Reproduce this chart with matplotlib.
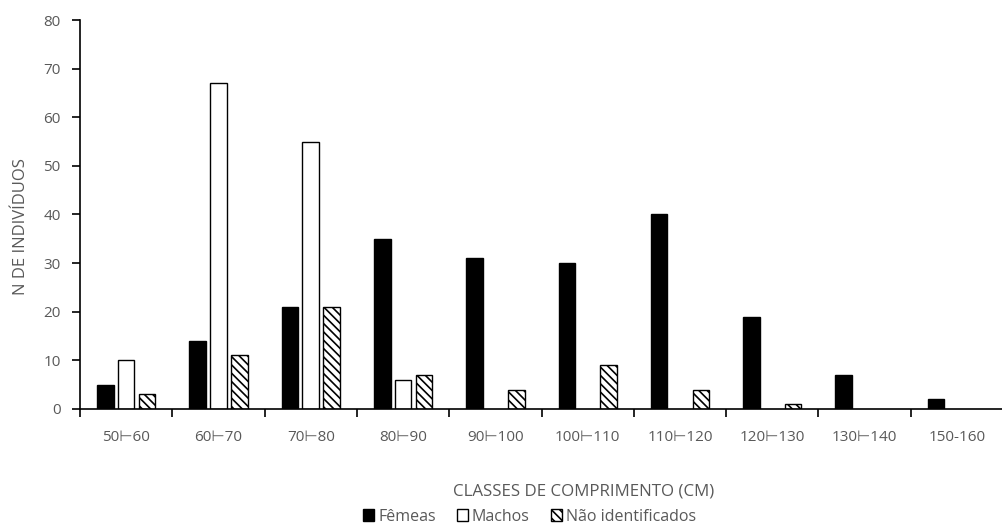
import matplotlib.pyplot as plt
import numpy as np

plt.rcParams['font.family'] = ['Open Sans', 'DejaVu Sans']
plt.rcParams['hatch.linewidth'] = 1.2

classes = ["50⊢60", "60⊢70", "70⊢80", "80⊢90", "90⊢100", "100⊢110",
           "110⊢120", "120⊢130", "130⊢140", "150-160"]
femeas = [5, 14, 21, 35, 31, 30, 40, 19, 7, 2]
machos = [10, 67, 55, 6, 0, 0, 0, 0, 0, 0]
nao_ident = [3, 11, 21, 7, 4, 9, 4, 1, 0, 0]

grey = "#595959"

fig = plt.figure(figsize=(10.03, 5.31), dpi=100)
ax = fig.add_axes([0.0798, 0.2298, 0.9202, 0.7325])

x = np.arange(len(classes))
w = 0.18
step = 0.226
ax.bar(x - step, femeas, w, color="black", edgecolor="black", lw=1, label="Fêmeas")
mv = np.array(machos, dtype=float)
mm = mv > 0
ax.bar(x[mm], mv[mm], w, color="white", edgecolor="black", lw=1, label="Machos")
nv = np.array(nao_ident, dtype=float)
nm = nv > 0
ax.bar(x[nm] + step, nv[nm], w, color="white", edgecolor="black", lw=1,
       hatch="\\\\\\\\", label="Não identificados")

ax.set_xlim(-0.5, len(classes) - 0.5)
ax.set_ylim(0, 80)
ax.set_yticks(range(0, 81, 10))
ax.set_xticks(x)
ax.set_xticklabels(classes)
ax.set_xticks(np.arange(-0.5, len(classes), 1), minor=True)
ax.tick_params(axis="x", which="major", length=0, pad=15, labelsize=11, labelcolor=grey)
ax.tick_params(axis="x", which="minor", length=6, width=1.2, direction="out")
ax.tick_params(axis="y", length=6, width=1.2, labelsize=11, labelcolor=grey, pad=8)

for s in ["top", "right"]:
    ax.spines[s].set_visible(False)
ax.spines["left"].set_linewidth(1.2)
ax.spines["bottom"].set_linewidth(1.2)

ax.set_ylabel("N DE INDIVÍDUOS", color=grey, fontsize=12, labelpad=8)
ax.yaxis.set_label_coords(-0.055, 0.47)
fig.text(0.582, 0.075, "CLASSES DE COMPRIMENTO (CM)", color=grey, fontsize=12.2,
         ha="center", va="center")

leg = fig.legend(loc="center", bbox_to_anchor=(0.528, 0.027), ncol=3, frameon=False,
                 fontsize=11.5, handlelength=0.7, handleheight=0.7, handletextpad=0.25,
                 columnspacing=1.3, borderaxespad=0, borderpad=0)
for t in leg.get_texts():
    t.set_color(grey)

fig.savefig("out.png", dpi=100)
